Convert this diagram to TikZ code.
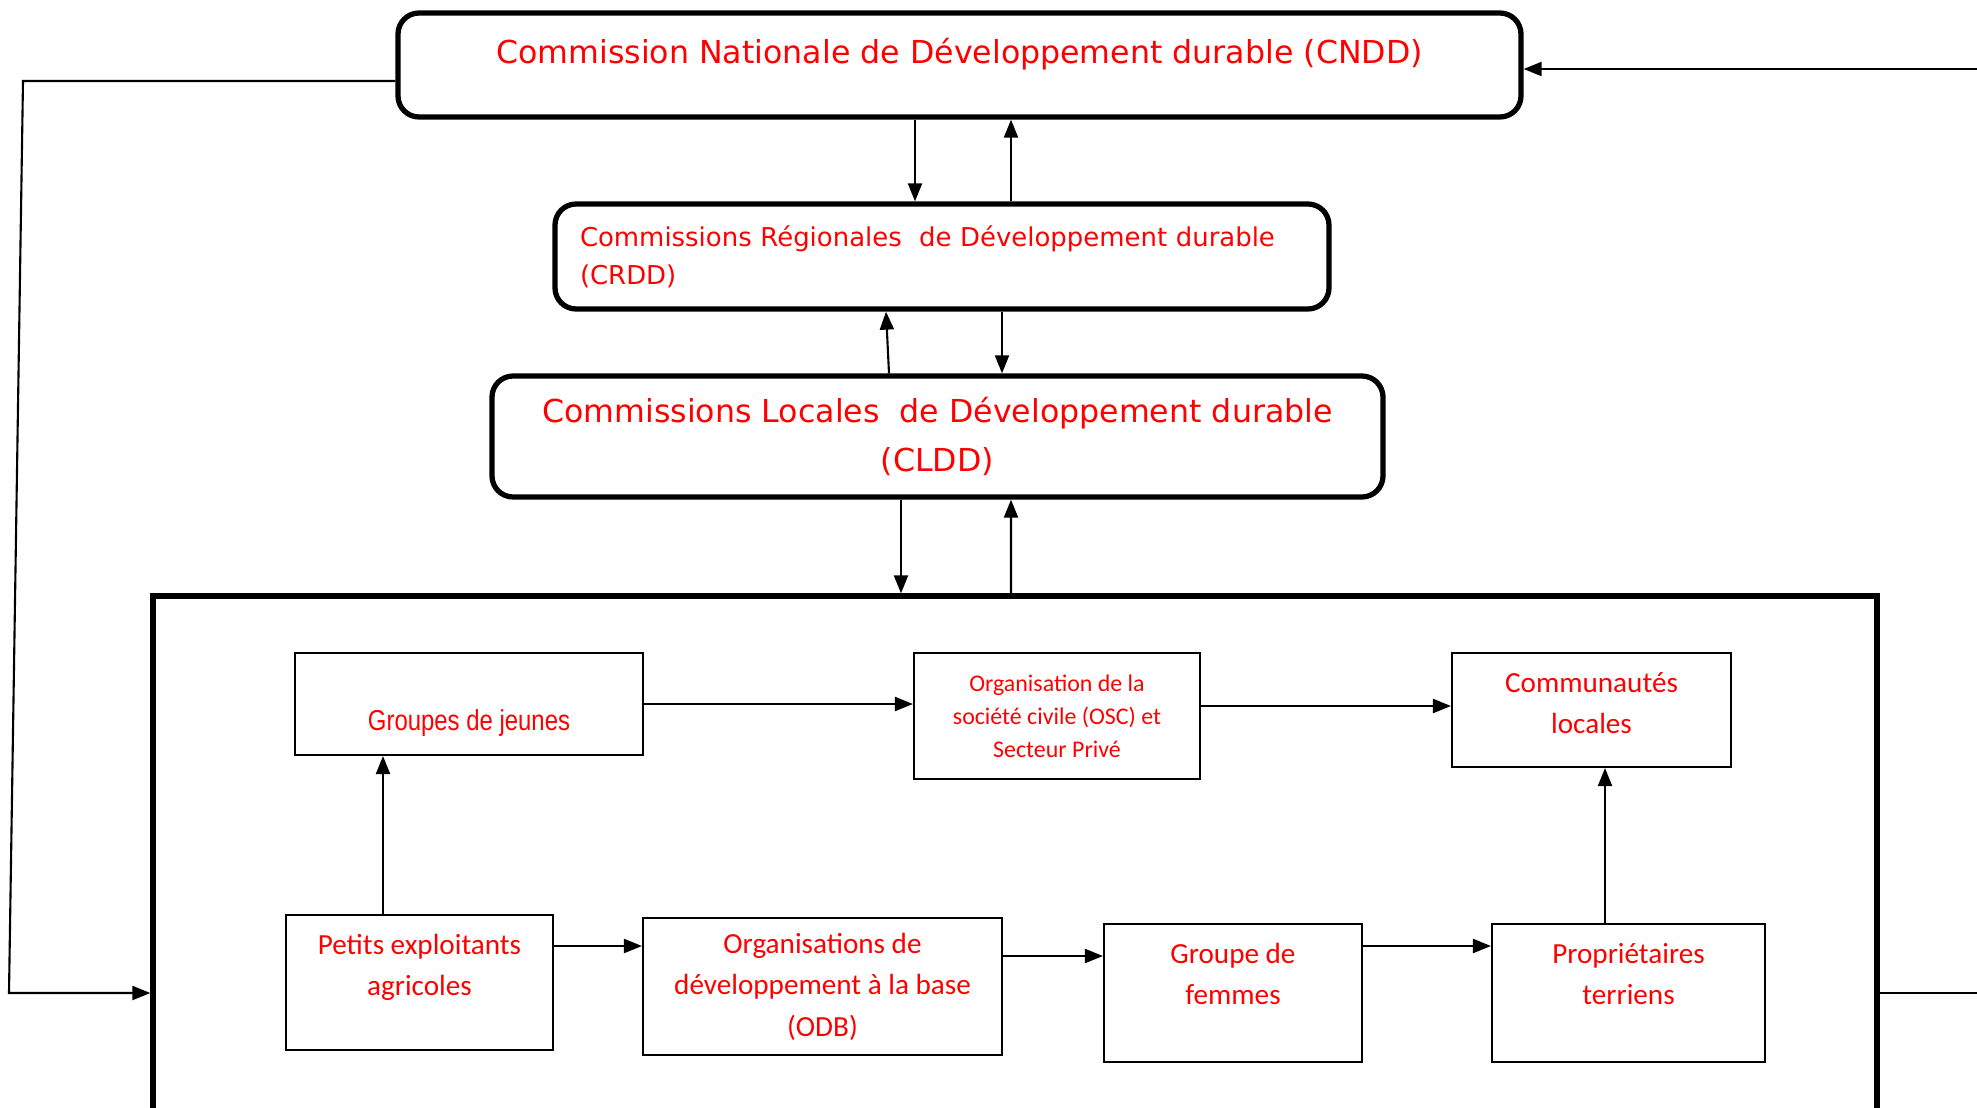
\documentclass[tikz,border=0pt]{standalone}
\usepackage{fontspec}
\setmainfont{Carlito}
\newfontfamily\comfont{DejaVu Sans}
\newfontfamily\narrowfont{Liberation Sans}[FakeStretch=0.83]
\usetikzlibrary{arrows.meta, positioning, calc}
\definecolor{labred}{RGB}{255, 0, 0}

\begin{document}
\begin{tikzpicture}[
  combox/.style={draw=black, line width=1.5pt, rounded corners=6pt, inner sep=0pt, text=labred, font=\comfont\fontsize{9}{13.8}\selectfont},
  orgbox/.style={draw=black, line width=0.6pt, inner sep=0pt},
  orgtext/.style={text=labred, align=center, inner sep=0pt, font=\fontsize{8.3}{11.8}\selectfont},
  arr/.style={-{Triangle[length=1.8mm, width=1.4mm]}, line width=0.6pt}
]
  \useasboundingbox (0,0) rectangle (19.77,11.07);

  % the three commissions
  \node[combox, minimum width=11.23cm, minimum height=1.04cm, text height=0.50cm, text depth=0.54cm] (cndd) at (9.595,10.42) {Commission Nationale de Développement durable (CNDD)};
  \node[combox, minimum width=7.74cm, minimum height=1.05cm, text width=7.24cm, align=left, font=\comfont\fontsize{7.38}{10.8}\selectfont] (crdd) at (9.42,8.505) {Commissions Régionales\ \ de Développement durable\\(CRDD)};
  \node[combox, minimum width=8.91cm, minimum height=1.21cm, align=center] (cldd) at (9.375,6.705) {Commissions Locales\ \ de Développement durable\\(CLDD)};

  % the local actors
  \node[draw=black, line width=1.5pt, minimum width=17.24cm, minimum height=5.41cm, inner sep=0pt] (grp) at (10.15,2.405) {};

  \node[orgbox, minimum width=3.48cm, minimum height=1.02cm, text=labred, text height=0.77cm, text depth=0.25cm, font=\narrowfont\fontsize{8.2}{10}\selectfont] (jeunes) at (4.69,4.03) {Groupes de jeunes};
  \node[orgbox, minimum width=2.86cm, minimum height=1.26cm, text=labred, align=center, font=\fontsize{6.8}{9.4}\selectfont] (osc) at (10.57,3.91) {Organisation de la\\société civile (OSC) et\\Secteur Privé};
  \node[orgbox, minimum width=2.79cm, minimum height=1.14cm] (comm) at (15.915,3.97) {};
  \node[orgtext] (commT) at ([yshift=0.07cm]comm.center) {Communautés\\locales};

  \node[orgbox, minimum width=2.67cm, minimum height=1.35cm] (petits) at (4.195,1.245) {};
  \node[orgtext] (petitsT) at ([yshift=0.15cm]petits.center) {Petits exploitants\\agricoles};
  \node[orgbox, minimum width=3.59cm, minimum height=1.37cm, text=labred, align=center, font=\fontsize{8.3}{11.8}\selectfont] (odb) at (8.225,1.205) {Organisations de\\développement à la base\\(ODB)};
  \node[orgbox, minimum width=2.58cm, minimum height=1.38cm] (femmes) at (12.33,1.14) {};
  \node[orgtext] (femmesT) at ([yshift=0.19cm]femmes.center) {Groupe de\\femmes};
  \node[orgbox, minimum width=2.73cm, minimum height=1.38cm] (prop) at (16.285,1.14) {};
  \node[orgtext] (propT) at ([yshift=0.19cm]prop.center) {Propriétaires\\terriens};

  % links between commissions
  \draw[arr] ([xshift=-0.445cm]cndd.south) -- ([xshift=-0.27cm]crdd.north);
  \draw[arr] ([xshift=0.69cm]crdd.north) -- ([xshift=0.515cm]cndd.south);
  \draw[arr] ([xshift=-0.485cm]cldd.north) -- ([xshift=-0.56cm]crdd.south);
  \draw[arr] ([xshift=0.60cm]crdd.south) -- ([xshift=0.645cm]cldd.north);
  \draw[arr] ([xshift=-0.365cm]cldd.south) -- ([xshift=-1.14cm]grp.north);
  \draw[arr] ([xshift=-0.04cm]grp.north) -- ([xshift=0.735cm]cldd.south);

  % outer loop
  \coordinate (lt) at (0.23,10.26);
  \coordinate (lb) at (0.09,1.14);
  \coordinate (rt) at (19.77,10.38);
  \coordinate (rb) at (19.77,1.14);
  \draw[arr] ([yshift=-0.16cm]cndd.west) -- (lt) -- (lb) -- (lb -| grp.west);
  \draw[arr] (rt) -- (rt -| cndd.east);
  \draw[line width=0.6pt] (rb -| grp.east) -- (rb);

  % links between actors
  \draw[arr] (jeunes.east) -- (jeunes.east -| osc.west);
  \draw[arr] ([yshift=0.1cm]osc.east) -- ([yshift=0.1cm]osc.east -| comm.west);
  \draw[arr] ([xshift=-0.365cm]petits.north) -- ([xshift=-0.365cm]petits.north |- jeunes.south);
  \draw[arr] ([yshift=0.365cm]petits.east) -- ([yshift=0.365cm]petits.east -| odb.west);
  \draw[arr] ([yshift=0.305cm]odb.east) -- ([yshift=0.305cm]odb.east -| femmes.west);
  \draw[arr] ([yshift=0.47cm]femmes.east) -- ([yshift=0.47cm]femmes.east -| prop.west);
  \draw[arr] ([xshift=-0.235cm]prop.north) -- ([xshift=-0.235cm]prop.north |- comm.south);
\end{tikzpicture}
\end{document}
